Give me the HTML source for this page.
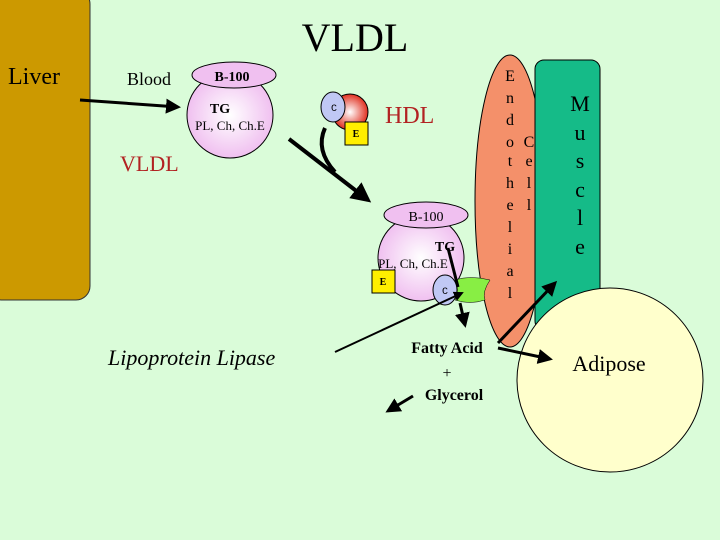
<!DOCTYPE html>
<html><head><style>body{margin:0}svg{display:block}</style></head><body>
<svg width="720" height="540" viewBox="0 0 720 540" xmlns="http://www.w3.org/2000/svg" font-family="Liberation Serif, serif">
<defs><marker id="a" markerWidth="6" markerHeight="6" refX="4" refY="3" orient="auto" markerUnits="strokeWidth"><path d="M0,0.5 L5,3 L0,5.5z" fill="#000"/></marker>
<radialGradient id="p" cx="50%" cy="50%" r="50%"><stop offset="0" stop-color="#fff"/><stop offset="1" stop-color="#f0c0f0"/></radialGradient>
<radialGradient id="r" cx="50%" cy="50%" r="50%"><stop offset="0" stop-color="#fff"/><stop offset="1" stop-color="#e03020"/></radialGradient></defs>
<rect width="720" height="540" fill="#dafcd9"/>
<rect x="-12" y="-10" width="102" height="310" rx="14" fill="#cc9900" stroke="#333"/>
<text x="8" y="84" font-size="24">Liver</text>
<text x="355" y="51" font-size="40" text-anchor="middle">VLDL</text>
<text x="127" y="85" font-size="18">Blood</text>
<line x1="80" y1="100" x2="178" y2="107" stroke="#000" stroke-width="3" marker-end="url(#a)"/>
<circle cx="230" cy="115" r="43" fill="url(#p)" stroke="#000"/>
<ellipse cx="234" cy="75" rx="42" ry="13" fill="#f0c0f0" stroke="#000"/>
<text x="232" y="81" font-size="14" font-weight="bold" text-anchor="middle">B-100</text>
<text x="220" y="113" font-size="14" font-weight="bold" text-anchor="middle">TG</text>
<text x="230" y="130" font-size="13" text-anchor="middle">PL, Ch, Ch.E</text>
<text x="120" y="171" font-size="22" fill="#b22222">VLDL</text>
<circle cx="350" cy="112" r="18" fill="url(#r)" stroke="#000"/>
<ellipse cx="333" cy="107" rx="12" ry="15" fill="#c0c8f4" stroke="#000"/>
<text x="334" y="111" font-size="10" text-anchor="middle" font-family="Liberation Mono">C</text>
<rect x="345" y="122" width="23" height="23" fill="#ffee00" stroke="#000"/>
<text x="356" y="137" font-size="10" font-weight="bold" text-anchor="middle">E</text>
<text x="385" y="123" font-size="24" fill="#b22222">HDL</text>
<path d="M325,128 Q315,150 335,172" fill="none" stroke="#000" stroke-width="4"/>
<line x1="289" y1="139" x2="368" y2="200" stroke="#000" stroke-width="4" marker-end="url(#a)"/>
<ellipse cx="510" cy="201" rx="35" ry="146" fill="#f4906a" stroke="#000"/>
<rect x="535" y="60" width="65" height="270" rx="9" fill="#15bb88" stroke="#000"/>
<ellipse cx="610" cy="380" rx="93" ry="92" fill="#ffffcc" stroke="#000"/>
<g font-size="16" text-anchor="middle">
<text x="510" y="81">E</text><text x="510" y="103">n</text><text x="510" y="125">d</text><text x="510" y="147">o</text><text x="510" y="166">t</text><text x="510" y="188">h</text><text x="510" y="210">e</text><text x="510" y="232">l</text><text x="510" y="254">i</text><text x="510" y="276">a</text><text x="510" y="298">l</text>
<text x="529" y="147">C</text><text x="529" y="166">e</text><text x="529" y="188">l</text><text x="529" y="210">l</text>
</g>
<g font-size="22" text-anchor="middle">
<text x="580" y="111">M</text><text x="580" y="140">u</text><text x="580" y="168">s</text><text x="580" y="197">c</text><text x="580" y="225">l</text><text x="580" y="254">e</text>
</g>
<text x="609" y="371" font-size="22" text-anchor="middle">Adipose</text>
<circle cx="421" cy="258" r="43" fill="url(#p)" stroke="#000"/>
<ellipse cx="426" cy="215" rx="42" ry="13" fill="#f0c0f0" stroke="#000"/>
<text x="426" y="221" font-size="14" text-anchor="middle">B-100</text>
<text x="445" y="251" font-size="14" font-weight="bold" text-anchor="middle">TG</text>
<text x="413" y="268" font-size="13" text-anchor="middle">PL, Ch, Ch.E</text>
<rect x="372" y="270" width="23" height="23" fill="#ffee00" stroke="#000"/>
<text x="383" y="285" font-size="10" font-weight="bold" text-anchor="middle">E</text>
<ellipse cx="445" cy="290" rx="12" ry="15" fill="#c0c8f4" stroke="#000"/>
<text x="445" y="294" font-size="10" text-anchor="middle" font-family="Liberation Mono">C</text>
<path d="M455,280 Q470,275 490,280 Q482,292 485,300 Q470,305 455,300 Q460,290 455,280z" fill="#88ee44" stroke="#000" stroke-width="0.5"/>
<line x1="448" y1="248" x2="458" y2="287" stroke="#000" stroke-width="3"/>
<line x1="460" y1="303" x2="465" y2="325" stroke="#000" stroke-width="3" marker-end="url(#a)"/>
<text x="108" y="365" font-size="22" font-style="italic">Lipoprotein Lipase</text>
<line x1="335" y1="352" x2="462" y2="293" stroke="#000" stroke-width="2" marker-end="url(#a)"/>
<g font-size="16" font-weight="bold" text-anchor="middle">
<text x="447" y="353">Fatty Acid</text><text x="447" y="378" font-weight="normal">+</text><text x="454" y="400">Glycerol</text>
</g>
<line x1="413" y1="396" x2="388" y2="411" stroke="#000" stroke-width="3" marker-end="url(#a)"/>
<line x1="498" y1="343" x2="555" y2="283" stroke="#000" stroke-width="3" marker-end="url(#a)"/>
<line x1="498" y1="348" x2="550" y2="359" stroke="#000" stroke-width="3" marker-end="url(#a)"/>
</svg>
</body></html>
